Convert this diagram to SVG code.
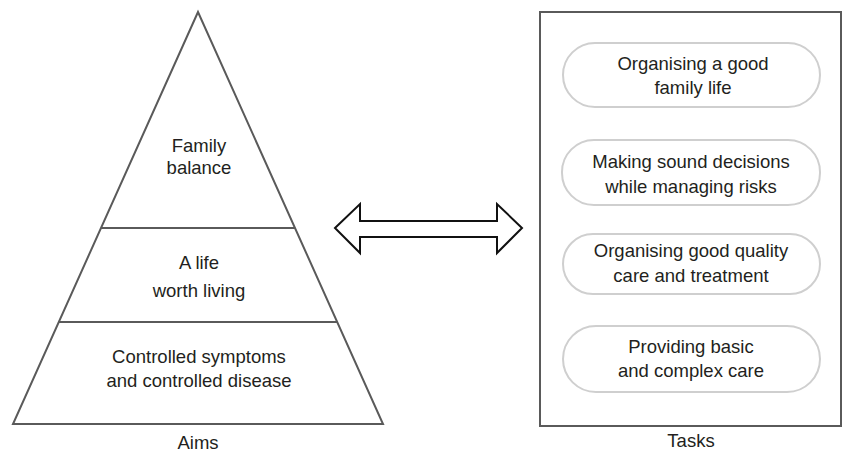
<svg xmlns="http://www.w3.org/2000/svg" width="842" height="452" viewBox="0 0 842 452">
<style>
text{font-family:"Liberation Sans",Arial,sans-serif;font-size:18.5px;fill:#231f20;text-anchor:middle}
.pl{fill:none;stroke:#5a5a5a;stroke-width:2}
.pill{fill:#fff;stroke:#cfcfcf;stroke-width:2}
</style>
<rect width="842" height="452" fill="#fff"/>
<g id="pyramid">
<polygon class="pl" points="198,12 13,424 383,424" stroke-linejoin="miter"/>
<line class="pl" x1="101" y1="228" x2="295" y2="228"/>
<line class="pl" x1="59" y1="322" x2="337" y2="322"/>
</g>
<g id="aim-top"><text x="199" y="152">Family</text><text x="199" y="174">balance</text></g>
<g id="aim-mid"><text x="199" y="269">A life</text><text x="199" y="297">worth living</text></g>
<g id="aim-base"><text x="199" y="363">Controlled symptoms</text><text x="199" y="387">and controlled disease</text></g>
<g id="aims-label"><text x="198" y="449">Aims</text></g>
<g id="tasks-box">
<rect x="540" y="12" width="301" height="414" fill="none" stroke="#5a5a5a" stroke-width="2"/>
</g>
<g id="task1"><rect class="pill" x="563" y="43" width="257" height="64" rx="32"/><text x="693" y="70">Organising a good</text><text x="693" y="94">family life</text></g>
<g id="task2"><rect class="pill" x="562" y="140" width="258" height="65" rx="32"/><text x="691" y="168">Making sound decisions</text><text x="691" y="193">while managing risks</text></g>
<g id="task3"><rect class="pill" x="563" y="234" width="257" height="60" rx="30"/><text x="691" y="257">Organising good quality</text><text x="691" y="282">care and treatment</text></g>
<g id="task4"><rect class="pill" x="563" y="326" width="257" height="66" rx="33"/><text x="691" y="353">Providing basic</text><text x="691" y="377">and complex care</text></g>
<g id="tasks-label"><text x="691" y="447">Tasks</text></g>
<g id="connectors">
<polygon points="335,228 360,204 360,221 497,221 497,204 522,228 497,253 497,237 360,237 360,253" fill="#fff" stroke="#111" stroke-width="2" stroke-linejoin="miter"/>
</g>
</svg>
